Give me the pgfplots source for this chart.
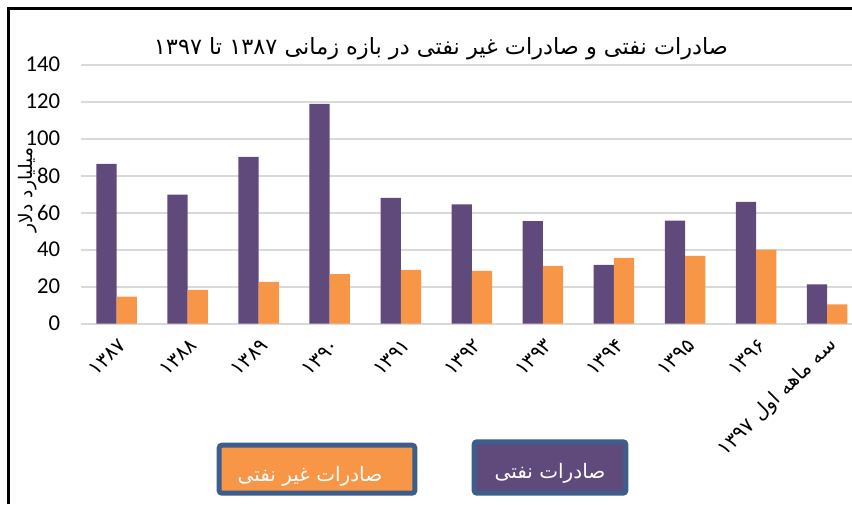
\documentclass[border=0pt]{standalone}
\usepackage{pgfplots}
\pgfplotsset{compat=1.18}
\usepackage{fontspec}
\setmainfont{Carlito}
\newfontfamily\fa[Script=Arabic]{DejaVu Sans}
\TeXXeTstate=1
\definecolor{oil}{HTML}{604A7B}
\definecolor{nonoil}{HTML}{F79646}
\definecolor{boxblue}{HTML}{3D5E8A}
\definecolor{gridgray}{HTML}{D9D9D9}

\begin{document}
\begin{tikzpicture}[x=0.75pt,y=0.75pt]
\path[use as bounding box] (0,0) rectangle (852,504);
% chart frame (cropped at the right and bottom)
\draw[black,line width=1.6pt] (8.5,0) -- (8.5,495.5) -- (852,495.5);

\begin{axis}[
    at={(60.525pt,135.375pt)},anchor=south west,
    scale only axis,width=578.5pt,height=194.1pt,
    xmin=-0.504,xmax=10.35,ymin=0,ymax=140,
    ytick={0,20,...,140},
    xtick={0,...,10},
    xticklabels={۱۳۸۷,۱۳۸۸,۱۳۸۹,۱۳۹۰,۱۳۹۱,۱۳۹۲,۱۳۹۳,۱۳۹۴,۱۳۹۵,۱۳۹۶,
      {\beginR سه ماهه اول \beginL۱۳۹۷\endL\endR}},
    x tick label style={font=\fa\fontsize{15}{17}\selectfont,rotate=45,anchor=east,yshift=-13pt,xshift=-3pt},
    y tick label style={font=\fontsize{17}{20}\selectfont,anchor=east,xshift=-12pt},
    /pgf/number format/assume math mode=true,
    major tick length=0pt,
    axis line style={draw=none},
    ymajorgrids,grid style={gridgray,line width=1.5pt},
    clip=false
]
\addplot[ybar,bar width=15.2pt,bar shift=-7.6pt,fill=oil,draw=none] coordinates
  {(0,86.3) (1,69.7) (2,90.1) (3,118.8) (4,67.9) (5,64.5) (6,55.4) (7,31.7) (8,55.7) (9,65.8) (10,21.1)};
\addplot[ybar,bar width=15.2pt,bar shift=7.6pt,fill=nonoil,draw=none] coordinates
  {(0,14.6) (1,18.2) (2,22.5) (3,26.7) (4,29.0) (5,28.5) (6,31.2) (7,35.5) (8,36.6) (9,39.9) (10,10.3)};
\end{axis}

% title
\node[font=\fa\fontsize{16.8}{20}\selectfont] at (441,455)
  {\beginR صادرات نفتی و صادرات غیر نفتی در بازه زمانی \beginL۱۳۸۷\endL{} تا \beginL۱۳۹۷\endL\endR};
% y label
\node[font=\fa\fontsize{14}{16}\selectfont,rotate=90] at (28,314) {\beginR میلیارد دلار\endR};

% legend boxes
\node[draw=boxblue,line width=3.75pt,fill=nonoil,rounded corners=2pt,
  minimum width=146.7pt,minimum height=36pt] at (317,34.8) {};
\node[text=white,font=\fa\fontsize{15}{17}\selectfont] at (310,28) {\beginR صادرات غیر نفتی\endR};
\node[draw=boxblue,line width=3.75pt,fill=oil,rounded corners=2pt,
  minimum width=113.7pt,minimum height=38.5pt] at (550,36.5) {};
\node[text=white,font=\fa\fontsize{15}{17}\selectfont] at (550,31) {\beginR صادرات نفتی\endR};
\end{tikzpicture}
\end{document}
